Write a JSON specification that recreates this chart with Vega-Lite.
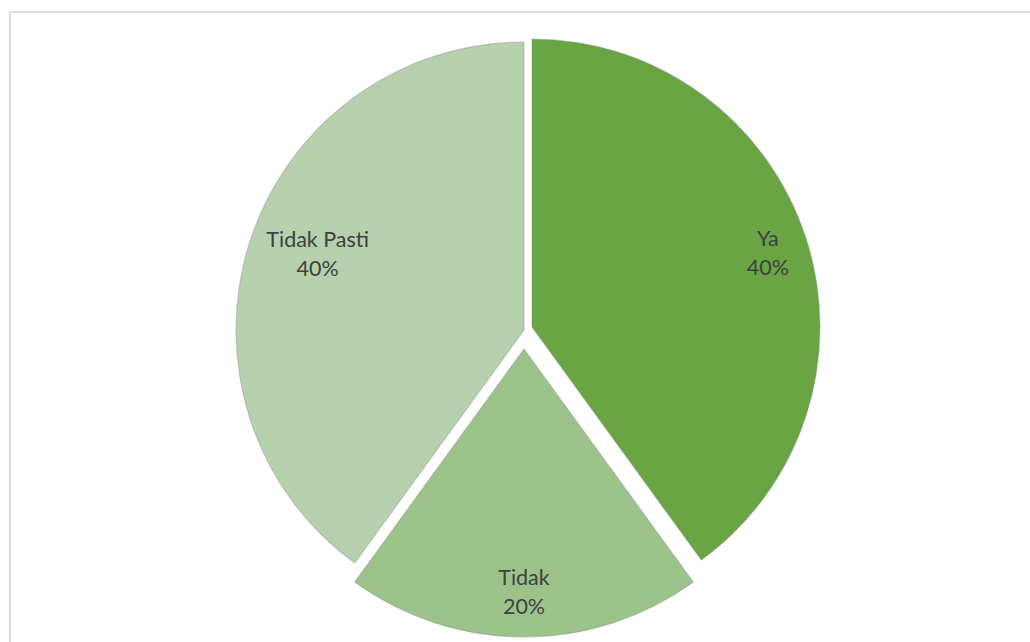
{
  "$schema": "https://vega.github.io/schema/vega-lite/v6.json",
  "width": 1030,
  "height": 642,
  "autosize": {"type": "fit", "contains": "padding"},
  "padding": {"left": 9, "top": 11, "right": -9, "bottom": -7},
  "background": "#ffffff",
  "config": {"view": {"stroke": null}},
  "data": {
    "values": [
      {"cat": "Ya", "value": 40},
      {"cat": "Tidak", "value": 20},
      {"cat": "Tidak Pasti", "value": 40}
    ]
  },
  "transform": [
    {"window": [{"op": "row_number", "as": "idx"}]},
    {"calculate": "datum.cat + '\\n' + datum.value + '%'", "as": "label"}
  ],
  "layer": [
    {
      "mark": {"type": "rect", "fill": null, "fillOpacity": 0, "stroke": "#dcdcdc", "strokeWidth": 2},
      "encoding": {}
    },
    {
      "encoding": {
        "theta": {"field": "value", "type": "quantitative", "stack": true},
        "order": {"field": "idx", "type": "quantitative"},
        "color": {
          "field": "cat",
          "type": "nominal",
          "scale": {"domain": ["Ya", "Tidak", "Tidak Pasti"], "range": ["#69a643", "#9cc48a", "#b7d1ae"]},
          "legend": null
        }
      },
      "layer": [
        {
          "mark": {"type": "arc", "radius": 288, "xOffset": 8, "yOffset": -3, "stroke": "#8a8a8a", "strokeWidth": 1.2, "strokeOpacity": 0.4},
          "encoding": {"opacity": {"condition": {"test": "datum.cat === 'Ya'", "value": 1}, "value": 0}}
        },
        {
          "mark": {"type": "arc", "radius": 288, "xOffset": 0, "yOffset": 19, "stroke": "#8a8a8a", "strokeWidth": 1.2, "strokeOpacity": 0.4},
          "encoding": {"opacity": {"condition": {"test": "datum.cat === 'Tidak'", "value": 1}, "value": 0}}
        },
        {
          "mark": {"type": "arc", "radius": 288, "stroke": "#8a8a8a", "strokeWidth": 1.2, "strokeOpacity": 0.4},
          "encoding": {"opacity": {"condition": {"test": "datum.cat === 'Tidak Pasti'", "value": 1}, "value": 0}}
        },
        {
          "mark": {"type": "text", "radius": 248, "xOffset": 8, "yOffset": -3, "dy": -10, "font": "Lato", "fontSize": 21.5, "lineBreak": "\n", "lineHeight": 29, "baseline": "middle", "align": "center"},
          "encoding": {
            "text": {"field": "label"},
            "color": {"value": "#404040"},
            "opacity": {"condition": {"test": "datum.cat === 'Ya'", "value": 1}, "value": 0}
          }
        },
        {
          "mark": {"type": "text", "radius": 243, "xOffset": 0, "yOffset": 19, "dy": -13, "font": "Lato", "fontSize": 21.5, "lineBreak": "\n", "lineHeight": 29, "baseline": "middle", "align": "center"},
          "encoding": {
            "text": {"field": "label"},
            "color": {"value": "#404040"},
            "opacity": {"condition": {"test": "datum.cat === 'Tidak'", "value": 1}, "value": 0}
          }
        },
        {
          "mark": {"type": "text", "radius": 219, "xOffset": 2, "dy": -21, "font": "Lato", "fontSize": 21.5, "lineBreak": "\n", "lineHeight": 29, "baseline": "middle", "align": "center"},
          "encoding": {
            "text": {"field": "label"},
            "color": {"value": "#404040"},
            "opacity": {"condition": {"test": "datum.cat === 'Tidak Pasti'", "value": 1}, "value": 0}
          }
        }
      ]
    }
  ]
}
